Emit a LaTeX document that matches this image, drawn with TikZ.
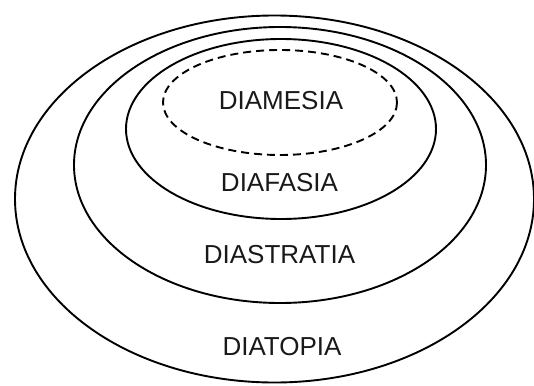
\documentclass[tikz,border=0pt]{standalone}
\usepackage{fontspec}
\setmainfont{Liberation Sans}
\begin{document}
\begin{tikzpicture}[x=1pt,y=-1pt,
  ring/.style={draw=black,line width=1.9pt},
  dashring/.style={draw=black,line width=1.9pt,dash pattern=on 8pt off 5pt},
  lbl/.style={font=\fontsize{26}{30}\selectfont,text=black!90,inner sep=0pt,anchor=center}]
\useasboundingbox (0,0) rectangle (534,385);
\path[ring] (274.5,199) ellipse [x radius=259.5, y radius=183.5];
\path[ring] (280,165) ellipse [x radius=206, y radius=138];
\path[ring] (281,129) ellipse [x radius=155, y radius=90];
\path[dashring] (280,102.5) ellipse [x radius=117, y radius=52.5];
\node[lbl] (mesia) at (281,101) {DIAMESIA};
\node[lbl] (fasia) at (279.5,183) {DIAFASIA};
\node[lbl] (stratia) at (279.5,255) {DIASTRATIA};
\node[lbl] (topia) at (282,347) {DIATOPIA};
\end{tikzpicture}
\end{document}
